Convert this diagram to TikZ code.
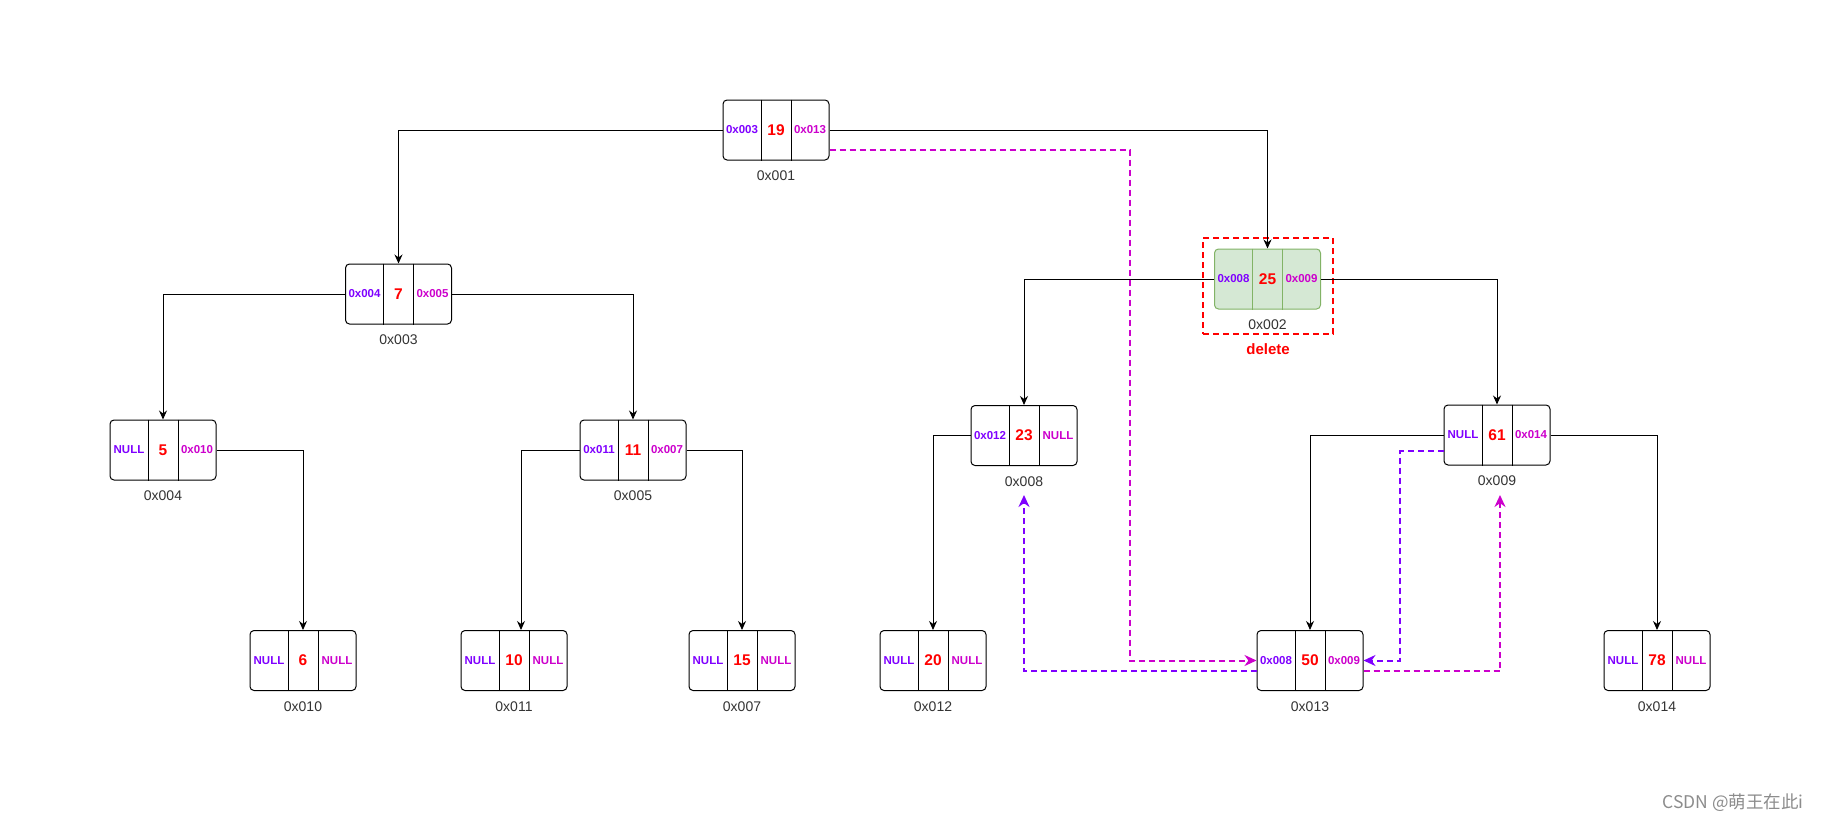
\documentclass[tikz,border=0pt]{standalone}
\usepackage{fontspec}
\setmainfont{Liberation Sans}
\newfontfamily\cjk{Noto Sans CJK SC}
\usetikzlibrary{arrows.meta}
\definecolor{pur}{HTML}{7F00FF}
\definecolor{mag}{HTML}{CC00CC}
\definecolor{redz}{HTML}{FF0000}
\definecolor{lbl}{HTML}{333333}
\definecolor{gfill}{HTML}{D5E8D4}
\definecolor{gline}{HTML}{82B366}
\tikzset{
  box/.style={draw=black, line width=1pt, rounded corners=4pt, minimum width=106pt, minimum height=60pt, inner sep=0pt},
  gbox/.style={box, draw=gline, fill=gfill},
  divbox/.style={draw=black, line width=1pt},
  divgbox/.style={draw=gline, line width=1pt},
  ptrL/.style={font=\fontsize{11.5}{12}\selectfont\bfseries, text=pur, inner sep=0pt},
  ptrR/.style={font=\fontsize{11.5}{12}\selectfont\bfseries, text=mag, inner sep=0pt},
  valtxt/.style={font=\fontsize{15.5}{16}\selectfont\bfseries, text=redz, inner sep=0pt},
  addr/.style={font=\fontsize{14}{15}\selectfont, text=lbl, inner sep=0pt},
  link/.style={draw=black, line width=1pt, -{Stealth[length=9pt,width=8pt]}},
  pdash/.style={draw=pur, line width=2pt, dash pattern=on 6pt off 4pt, -{Stealth[length=12pt,width=11pt]}},
  mdash/.style={draw=mag, line width=2pt, dash pattern=on 6pt off 4pt, -{Stealth[length=12pt,width=11pt]}},
}
\newcommand\bnode[8]{%
  \node[#8] (#1) at (#2,#3) {};
  \draw[div#8] ([xshift=-15pt]#1.north) -- ([xshift=-15pt]#1.south);
  \draw[div#8] ([xshift=15pt]#1.north) -- ([xshift=15pt]#1.south);
  \node[ptrL] (#1L) at ([xshift=-34pt]#1.center) {#4};
  \node[valtxt] (#1V) at (#1.center) {#5};
  \node[ptrR] (#1R) at ([xshift=34pt]#1.center) {#6};
  \node[addr] (#1A) at ([yshift=-46pt]#1.center) {#7};
}
\begin{document}
\begin{tikzpicture}[x=1pt,y=-1pt]
\useasboundingbox[fill=white] (0,0) rectangle (1823,816);
% delete frame
\node[draw=redz, line width=1.8pt, dash pattern=on 6pt off 4pt, minimum width=130pt, minimum height=96pt, inner sep=0pt] (delbox) at (1268,286) {};
\node[font=\fontsize{15}{16}\selectfont\bfseries, text=redz, inner sep=0pt] (deltxt) at (1268,349) {delete};
% nodes
\bnode{n001}{776}{130}{0x003}{19}{0x013}{0x001}{box}
\bnode{n002}{1267.5}{279}{0x008}{25}{0x009}{0x002}{gbox}
\bnode{n003}{398.5}{294}{0x004}{7}{0x005}{0x003}{box}
\bnode{n004}{163}{450}{NULL}{5}{0x010}{0x004}{box}
\bnode{n005}{633}{450}{0x011}{11}{0x007}{0x005}{box}
\bnode{n008}{1024}{435.5}{0x012}{23}{NULL}{0x008}{box}
\bnode{n009}{1497}{435}{NULL}{61}{0x014}{0x009}{box}
\bnode{n010}{303}{660.5}{NULL}{6}{NULL}{0x010}{box}
\bnode{n011}{514}{660.5}{NULL}{10}{NULL}{0x011}{box}
\bnode{n007}{742}{660.5}{NULL}{15}{NULL}{0x007}{box}
\bnode{n012}{933}{660.5}{NULL}{20}{NULL}{0x012}{box}
\bnode{n013}{1310}{660.5}{0x008}{50}{0x009}{0x013}{box}
\bnode{n014}{1657}{660.5}{NULL}{78}{NULL}{0x014}{box}
% tree links
\draw[link] (n001.west) -| (n003.north);
\draw[link] (n001.east) -| (n002.north);
\draw[link] (n003.west) -| (n004.north);
\draw[link] (n003.east) -| (n005.north);
\draw[link] (n004.east) -| (n010.north);
\draw[link] (n005.west) -| ([xshift=7pt]n011.north);
\draw[link] (n005.east) -| (n007.north);
\draw[link] (n002.west) -| (n008.north);
\draw[link] (n002.east) -| (n009.north);
\draw[link] (n008.west) -| (n012.north);
\draw[link] (n009.west) -| (n013.north);
\draw[link] (n009.east) -| (n014.north);
% dashed pointers
\coordinate (c1) at (1130,660.5);
\draw[mdash] ([yshift=-20pt]n001.east) -| (c1) -- (n013.west);
\coordinate (c2) at (1024,495);
\draw[pdash] ([yshift=-10.5pt]n013.west) -| (c2);
\coordinate (c3) at (1400,660.5);
\draw[pdash] ([yshift=-16pt]n009.west) -| (c3) -- (n013.east);
\coordinate (c4) at (1500,495);
\draw[mdash] ([yshift=-10.5pt]n013.east) -| (c4);
% watermark
\node[font=\cjk\fontsize{17.5}{18}\selectfont, text=black!45, inner sep=0pt] (wm) at (1733,803) {CSDN @萌王在此i};
\end{tikzpicture}
\end{document}
